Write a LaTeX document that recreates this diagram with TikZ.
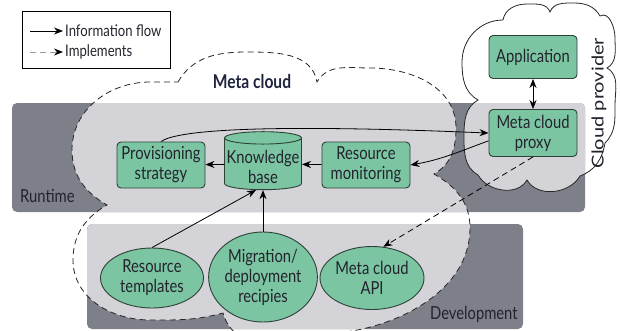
\documentclass[tikz,border=0pt]{standalone}
\usepackage{fontspec}
\usepackage{graphicx}
\setmainfont{Lato}[FakeStretch=0.82]
\newfontfamily\upfont{Lato}
\usetikzlibrary{shapes.geometric,arrows.meta,positioning}
\definecolor{boxgreen}{RGB}{124,197,162}
\definecolor{boxline}{RGB}{45,65,55}
\definecolor{banddark}{RGB}{125,128,136}
\definecolor{bandlight}{RGB}{211,211,216}
\definecolor{inktext}{RGB}{35,35,45}
\definecolor{titleblue}{RGB}{30,35,62}

\begin{document}
\begin{tikzpicture}[
    x=1pt,y=1pt,
    font=\fontsize{18}{20}\selectfont,
    text=inktext,
    box/.style={draw=boxline,fill=boxgreen,rounded corners=4pt,line width=0.9pt,
      align=center,inner sep=1pt,minimum width=88pt,minimum height=46pt},
    ell/.style={draw=boxline,fill=boxgreen,ellipse,line width=0.9pt,align=center,inner sep=0pt},
    db/.style={draw=boxline,fill=boxgreen,cylinder,shape border rotate=90,aspect=0.17,
      line width=0.9pt,inner sep=0pt,minimum width=77pt,minimum height=58pt},
    flow/.style={line width=0.8pt,-{Stealth[length=9pt,width=7pt]}},
    impl/.style={line width=0.8pt,dash pattern=on 6pt off 4pt,-{Stealth[length=9pt,width=7pt]}},
    legend/.style={font=\fontsize{16}{18}\selectfont,inner sep=1pt},
    band/.style={font=\fontsize{18}{20}\selectfont,inner sep=0pt}
  ]
  \clip (0,0) rectangle (620,-330);
  \path[save path=\metacloud] (178,-82) to[out=60,in=180] (247,-52) to[out=0,in=100] (317,-82)
    to[out=60,in=180] (370,-68) to[out=0,in=90] (456,-128) to[out=-90,in=30] (434,-174)
    to[out=-30,in=90] (470,-228) .. controls (470,-290) and (400,-325) .. (345,-332)
    .. controls (330,-365) and (235,-360) .. (223,-313)
    to[out=195,in=0] (150,-320) to[out=180,in=-90] (73,-260) to[out=90,in=-150] (107,-205)
    to[out=150,in=-90] (72,-150) to[out=90,in=180] (150,-82) -- cycle;
  \path[save path=\provcloud] (478,-175) to[out=150,in=-90] (464,-135) to[out=90,in=-150] (478,-100)
    to[out=150,in=-90] (462,-62) to[out=90,in=180] (503,-20)
    to[out=80,in=180] (527,-4) to[out=0,in=110] (550,-12)
    to[out=70,in=180] (574,-3) to[out=0,in=120] (600,-16)
    to[out=30,in=90] (615,-38) to[out=-90,in=30] (607,-68)
    to[out=-30,in=90] (615,-105) to[out=-90,in=45] (605,-143)
    to[out=-100,in=20] (580,-176) to[out=-120,in=-60] (527,-180)
    to[out=-120,in=-60] cycle;
  \fill[banddark,rounded corners=5pt] (12,-103) rectangle (585,-212);
  \fill[banddark,rounded corners=5pt] (87,-224) rectangle (523,-329);
  \begin{scope}
    \clip[rounded corners=5pt] (12,-103) rectangle (585,-212) (87,-224) rectangle (523,-329);
    \path[use path=\metacloud,fill=bandlight];
    \path[use path=\provcloud,fill=bandlight];
  \end{scope}
  \path[use path=\metacloud,draw=black!85,line width=0.8pt,dash pattern=on 6pt off 4pt];
  \path[use path=\provcloud,draw=black!85,line width=0.8pt];

  \draw[line width=0.8pt] (22,-11) rectangle (170,-68);
  \coordinate (fa) at (30,-31);
  \coordinate (fb) at (63,-31);
  \coordinate (ia) at (30,-52);
  \coordinate (ib) at (63,-52);
  \node[legend,anchor=west] (flowtxt) at (64,-31) {Information flow};
  \node[legend,anchor=west] (impltxt) at (64,-52) {Implements};
  \draw[flow] (fa) -- (fb);
  \draw[impl,draw=black!40,-{Stealth[length=9pt,width=7pt,black]}] (ia) -- (ib);

  \node[band,anchor=base west] (runtime) at (20,-202) {Runtime};
  \node[band,anchor=base west] (devel) at (430,-319) {Development};
  \node[font=\fontsize{19}{20}\selectfont\bfseries,text=titleblue,anchor=base] (meta) at (252,-88) {Meta cloud};
  \node[font=\upfont\fontsize{20}{20}\selectfont,rotate=90,inner sep=0pt] (provider) at (599,-103) {\scalebox{1}[0.82]{Cloud provider}};

  \node[box,minimum height=43pt] (app) at (533,-57) {Application};
  \node[box,minimum height=47pt] (proxy) at (533,-133) {Meta cloud\\proxy};
  \node[box] (prov) at (161,-165) {Provisioning\\strategy};
  \node[box] (mon) at (366,-165) {Resource\\monitoring};
  \node[db] (kb) at (263,-164) {\phantom{Knowledge}};
  \node[align=center,inner sep=0pt] (kbtext) at (263,-167) {Knowledge\\base};
  \node[ell,minimum width=103pt,minimum height=60pt] (tpl) at (152,-278) {Resource\\templates};
  \node[ell,minimum width=103pt,minimum height=90pt] (mig) at (263,-277) {Migration/\\deployment\\recipies};
  \node[ell,minimum width=104pt,minimum height=63pt] (api) at (372,-278) {Meta cloud\\API};

  \draw[line width=0.8pt,{Stealth[length=9pt,width=7pt]}-{Stealth[length=9pt,width=7pt]}] (app) -- (proxy);
  \draw[flow] (kb) -- (prov);
  \draw[flow] (mon) -- (kb);
  \draw[flow] (proxy.190) to[out=200,in=10] (mon.east);
  \draw[flow] (prov.north) to[out=35,in=178,looseness=0.3] (proxy.west);
  \draw[flow] (tpl.north) -- (kb.255);
  \draw[flow] (mig) -- (kb);
  \draw[impl] (proxy.south) -- (api.70);
\end{tikzpicture}
\end{document}
